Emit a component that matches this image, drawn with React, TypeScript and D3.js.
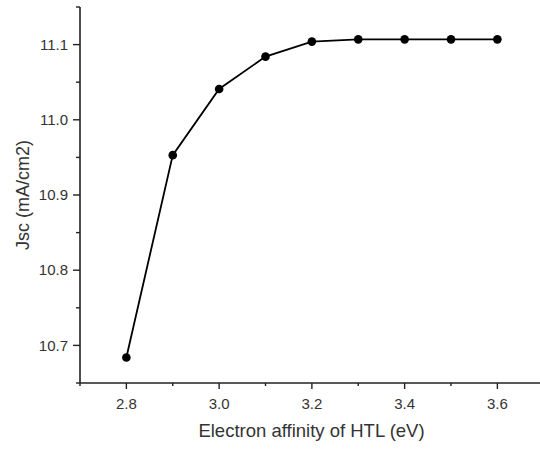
import React from "react";
import * as d3 from "d3";

const xValues = [2.8, 2.9, 3.0, 3.1, 3.2, 3.3, 3.4, 3.5, 3.6];
const jscValues = [10.684, 10.953, 11.041, 11.084, 11.104, 11.107, 11.107, 11.107, 11.107];
const xMajorTicks = [2.8, 3.0, 3.2, 3.4, 3.6];
const xMinorTicks = [2.7, 2.9, 3.1, 3.3, 3.5];
const yMajorTicks = [10.7, 10.8, 10.9, 11.0, 11.1];
const yMinorTicks = [10.65, 10.75, 10.85, 10.95, 11.05, 11.15];
const xTitle = "Electron affinity of HTL (eV)";
const yTitle = "Jsc (mA/cm2)";

const W = 540;
const H = 449;
const left = 80;
const axisY = 383;

export default function App() {
  const x = d3.scaleLinear().domain([2.7, 3.7]).range([left, left + 463.75]);
  const y = d3.scaleLinear().domain([10.65, 11.15]).range([axisY, axisY - 376]);
  const line = d3
    .line<number>()
    .x((_, i) => x(xValues[i]))
    .y((d) => y(d));
  const font = "'Liberation Sans', Arial, sans-serif";
  const textColor = "#333";
  return (
    <svg
      width={W}
      height={H}
      style={{ position: "absolute", left: 0, top: 0, background: "#fff" }}
    >
      <path d={line(jscValues) || ""} fill="none" stroke="#000" strokeWidth={1.8} />
      {jscValues.map((v, i) => (
        <circle key={i} cx={x(xValues[i])} cy={y(v)} r={4.3} fill="#000" />
      ))}
      {/* axes */}
      <line x1={left} x2={left} y1={y(11.15)} y2={axisY} stroke="#222" strokeWidth={1.6} />
      <line x1={left} x2={W} y1={axisY} y2={axisY} stroke="#222" strokeWidth={1.6} />
      {xMajorTicks.map((t) => (
        <g key={"xm" + t}>
          <line x1={x(t)} x2={x(t)} y1={axisY} y2={axisY + 6} stroke="#222" strokeWidth={1.4} />
          <text
            x={x(t)}
            y={axisY + 26}
            textAnchor="middle"
            fontFamily={font}
            fontSize={15}
            fill={textColor}
          >
            {d3.format(".1f")(t)}
          </text>
        </g>
      ))}
      {xMinorTicks.map((t) => (
        <line key={"xn" + t} x1={x(t)} x2={x(t)} y1={axisY} y2={axisY + 3} stroke="#222" strokeWidth={1.4} />
      ))}
      {yMajorTicks.map((t) => (
        <g key={"ym" + t}>
          <line x1={left - 7} x2={left} y1={y(t)} y2={y(t)} stroke="#222" strokeWidth={1.4} />
          <text
            x={left - 12}
            y={y(t)}
            dy="0.35em"
            textAnchor="end"
            fontFamily={font}
            fontSize={15}
            fill={textColor}
          >
            {d3.format(".1f")(t)}
          </text>
        </g>
      ))}
      {yMinorTicks.map((t) => (
        <line key={"yn" + t} x1={left - 4} x2={left} y1={y(t)} y2={y(t)} stroke="#222" strokeWidth={1.4} />
      ))}
      <text
        x={311.5}
        y={437}
        textAnchor="middle"
        fontFamily={font}
        fontSize={18.5}
        fill={textColor}
      >
        {xTitle}
      </text>
      <text
        transform={`translate(29, 195) rotate(-90)`}
        textAnchor="middle"
        fontFamily={font}
        fontSize={18}
        fill={textColor}
      >
        {yTitle}
      </text>
    </svg>
  );
}
